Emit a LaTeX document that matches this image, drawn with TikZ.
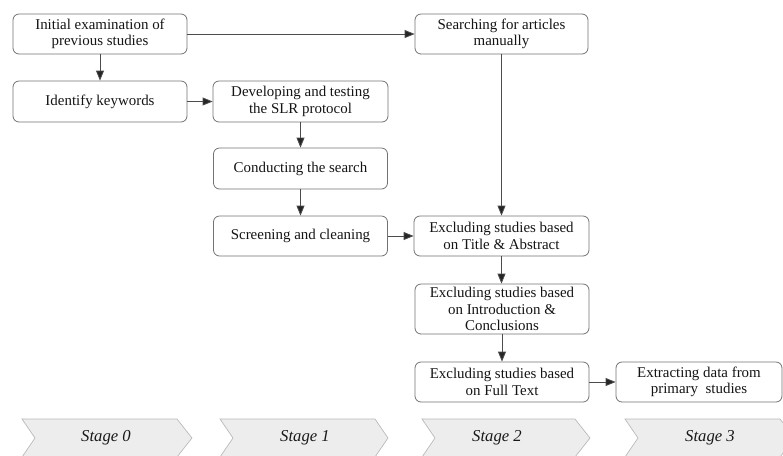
\documentclass[tikz,border=0pt]{standalone}
\usepackage{fontspec}
\setmainfont{Liberation Serif}
\usetikzlibrary{arrows.meta}
\begin{document}
\begin{tikzpicture}[x=0.75pt,y=-0.75pt,
  box/.style={draw=black!55, line width=0.6pt, rounded corners=4.5pt, fill=white,
    align=center, inner sep=0pt, text=black!92,
    font=\fontsize{11.2}{12.2}\selectfont},
  flow/.style={draw=black!70, line width=0.6pt,
    -{Triangle[length=7.5pt,width=6pt,fill=black!85]}},
  stagebox/.style={fill=black!7, draw=black!28, line width=0.5pt},
  stagetext/.style={font=\fontsize{12.5}{15}\selectfont\itshape, text=black!90}]
\useasboundingbox (0,0) rectangle (783,455);

% process boxes
\node[box, minimum width=130.5pt, minimum height=30pt]   (init)  at (100,34)    {Initial examination of\\previous studies};
\node[box, minimum width=130.5pt, minimum height=30.75pt](keys)  at (100,101.5) {Identify keywords};
\node[box, minimum width=131.25pt, minimum height=30.75pt](proto) at (300.5,101.5) {Developing and testing\\the SLR protocol};
\node[box, minimum width=129.75pt, minimum height=30pt]  (manual) at (501.5,34) {Searching for articles\\manually};
\node[box, minimum width=130.5pt, minimum height=30.75pt](search) at (300.5,168.5) {Conducting the search};
\node[box, minimum width=130.5pt, minimum height=30pt]   (screen) at (300.5,236) {Screening and cleaning};
\node[box, minimum width=131.25pt, minimum height=30pt]  (title)  at (501.5,236) {Excluding studies based\\on Title \& Abstract};
\node[box, minimum width=130.5pt, minimum height=37.5pt] (intro)  at (502,309)   {Excluding studies based\\on Introduction \&\\Conclusions};
\node[box, minimum width=130.5pt, minimum height=30pt]   (full)   at (502,382)   {Excluding studies based\\on Full Text};
\node[box, minimum width=124.5pt, minimum height=30pt]   (extract) at (699,382)  {Extracting data from\\primary\ \ studies};

% connectors
\draw[flow] (init) -- (manual);
\draw[flow] (init.south) -- (init.south |- keys.north);
\draw[flow] (keys) -- (proto);
\draw[flow] (proto.south) -- (proto.south |- search.north);
\draw[flow] (search.south) -- (search.south |- screen.north);
\draw[flow] (screen) -- (title);
\draw[flow] (manual.south) -- (manual.south |- title.north);
\draw[flow] (title.south) -- (title.south |- intro.north);
\draw[flow] (intro.south) -- (intro.south |- full.north);
\draw[flow] (full) -- (extract);

% stage chevrons
\draw[stagebox] (22,419) -- (177,419) -- (192,438) -- (177,457) -- (22,457) -- (35,438) -- cycle;
\draw[stagebox] (220,419) -- (375,419) -- (388,438) -- (375,457) -- (220,457) -- (233,438) -- cycle;
\draw[stagebox] (422,419) -- (575,419) -- (590,438) -- (575,457) -- (422,457) -- (435,438) -- cycle;
\draw[stagebox] (625,419) -- (780,419) -- (795,438) -- (780,457) -- (625,457) -- (638,438) -- cycle;
\node[stagetext] (s0) at (106,438) {Stage 0};
\node[stagetext] (s1) at (305,438) {Stage 1};
\node[stagetext] (s2) at (497,438) {Stage 2};
\node[stagetext] (s3) at (710,438) {Stage 3};
\end{tikzpicture}
\end{document}
